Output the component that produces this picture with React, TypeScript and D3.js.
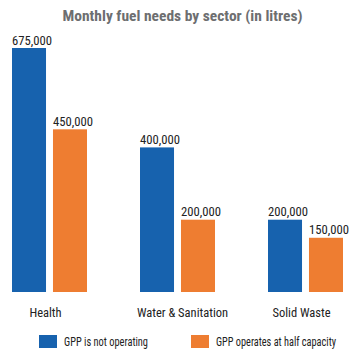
import React from "react";
import * as d3 from "d3";

const categories = ["Health", "Water & Sanitation", "Solid Waste"];
const seriesNames = ["GPP is not operating", "GPP operates at half capacity"];
const notOperating = [675000, 400000, 200000];
const halfCapacity = [450000, 200000, 150000];
const colors = ["#1762ae", "#ee7d31"];

const W = 355;
const H = 356;
const FONT = "'Liberation Sans Narrow', 'Roboto Condensed', 'Open Sans', sans-serif";
const labelShift = [0, 9, 0];
const legendX = [39, 191];
const legendTextLen = [84, 120];

export default function App() {
  const baseline = 292;
  const x0 = d3.scaleBand<string>().domain(categories).range([12, 396]).paddingInner(0).paddingOuter(0);
  const x1 = d3.scaleBand<string>().domain(seriesNames).range([0, 75]).paddingInner(0.17);
  const y = d3.scaleLinear().domain([0, 675000]).range([baseline, 48]);
  const fmt = d3.format(",");
  const series = [notOperating, halfCapacity];

  return (
    <svg width={W} height={H} style={{ position: "absolute", left: 0, top: 0, background: "#fff" }}>
      <text x={182.5} y={21} textAnchor="middle" fontFamily={FONT} fontSize={15.5} fontWeight="bold" fill="#6d6e70">
        Monthly fuel needs by sector (in litres)
      </text>
      {categories.map((c, i) => (
        <g key={c} transform={`translate(${x0(c)},0)`}>
          {seriesNames.map((s, j) => {
            const v = series[j][i];
            const bx = x1(s)!;
            return (
              <g key={s}>
                <rect x={bx} y={y(v)} width={x1.bandwidth()} height={baseline - y(v)} fill={colors[j]} />
                <text x={bx} y={y(v) - 3.5} fontFamily={FONT} fontSize={13.5} fill="#222"
                  textLength={40} lengthAdjust="spacingAndGlyphs">
                  {fmt(v)}
                </text>
              </g>
            );
          })}
          <text x={33.5 + labelShift[i]} y={317} textAnchor="middle" fontFamily={FONT} fontSize={12.5} fill="#222">
            {c}
          </text>
        </g>
      ))}
      {seriesNames.map((s, j) => (
        <g key={s}>
          <rect x={legendX[j]} y={335} width={18} height={13} fill={colors[j]} />
          <text x={legendX[j] + 25} y={346} fontFamily={FONT} fontSize={12} fill="#222"
            textLength={legendTextLen[j]} lengthAdjust="spacingAndGlyphs">
            {s}
          </text>
        </g>
      ))}
    </svg>
  );
}
